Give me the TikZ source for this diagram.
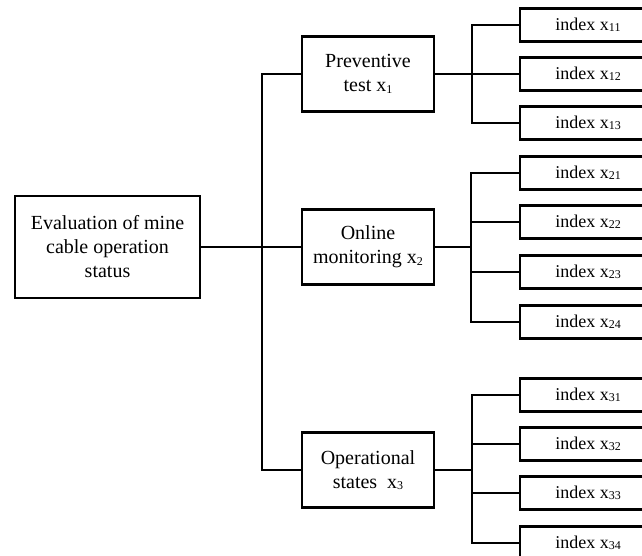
\documentclass[tikz,border=0pt]{standalone}
\usepackage{fontspec}
\setmainfont{Liberation Serif}
\newcommand{\sbs}[2]{\raisebox{-0.15ex}{\fontsize{#1}{#1}\selectfont #2}}
\tikzset{
  conn/.style={line width=2.2pt},
  rootbox/.style={draw, line width=2.4pt, minimum width=185pt, minimum height=102pt, align=center, inner sep=0pt, font=\fontsize{20}{24}\selectfont},
  mainbox/.style={draw, line width=2.4pt, minimum width=132pt, minimum height=75pt, align=center, inner sep=0pt, font=\fontsize{20}{24}\selectfont},
  idxbox/.style={draw, line width=2.4pt, minimum width=136pt, minimum height=33pt, inner sep=0pt, font=\fontsize{18}{20}\selectfont}
}
\begin{document}
\begin{tikzpicture}[x=1pt,y=-1pt]
\useasboundingbox (0,0) rectangle (642,555);
\clip (0,0) rectangle (642,555);
\fill[white] (0,0) rectangle (642,555);

\node[rootbox] (root) at (107.5,247) {Evaluation of mine\\cable operation\\status};

\node[mainbox] (p) at (368,74) {Preventive\\test x\sbs{12}{1}};
\node[mainbox] (o) at (368,247) {Online\\monitoring x\sbs{12}{2}};
\node[mainbox] (op) at (368,470) {Operational\\states\ \ x\sbs{12}{3}};

\node[idxbox] (i11) at (588,25) {index x\sbs{12}{11}};
\node[idxbox] (i12) at (588,74) {index x\sbs{12}{12}};
\node[idxbox] (i13) at (588,123) {index x\sbs{12}{13}};
\node[idxbox] (i21) at (588,173) {index x\sbs{12}{21}};
\node[idxbox] (i22) at (588,222) {index x\sbs{12}{22}};
\node[idxbox] (i23) at (588,272) {index x\sbs{12}{23}};
\node[idxbox] (i24) at (588,322) {index x\sbs{12}{24}};
\node[idxbox] (i31) at (588,395) {index x\sbs{12}{31}};
\node[idxbox] (i32) at (588,444) {index x\sbs{12}{32}};
\node[idxbox] (i33) at (588,493) {index x\sbs{12}{33}};
\node[idxbox] (i34) at (588,543) {index x\sbs{12}{34}};

\coordinate (tb) at (262,247);
\coordinate (g1) at (472,74);
\coordinate (g2) at (471,247);
\coordinate (g3) at (472,470);

\draw[conn] (root.east) -- (tb);
\draw[conn] (p.west) -| (tb) |- (op.west);
\draw[conn] (tb) -- (o.west);

\draw[conn] (p.east) -- (i12.west);
\draw[conn] (i11.west) -| (g1) |- (i13.west);

\draw[conn] (o.east) -- (g2);
\draw[conn] (i21.west) -| (g2) |- (i24.west);
\draw[conn] (g2 |- i22.west) -- (i22.west);
\draw[conn] (g2 |- i23.west) -- (i23.west);

\draw[conn] (op.east) -- (g3);
\draw[conn] (i31.west) -| (g3) |- (i34.west);
\draw[conn] (g3 |- i32.west) -- (i32.west);
\draw[conn] (g3 |- i33.west) -- (i33.west);
\end{tikzpicture}
\end{document}
